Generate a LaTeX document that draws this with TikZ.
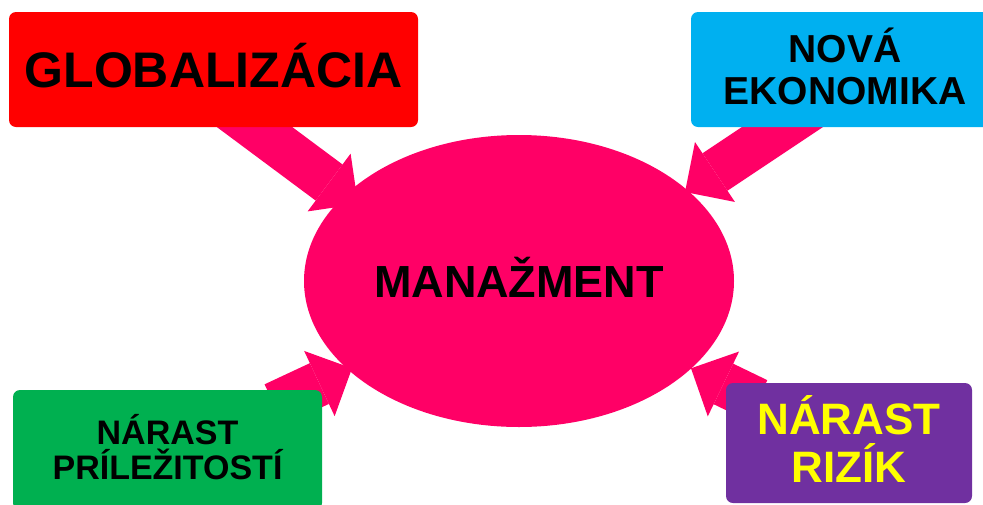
\documentclass[tikz,border=0pt]{standalone}
\usepackage{fontspec}
\setmainfont{Liberation Sans}
\usetikzlibrary{shapes.geometric,arrows.meta,calc}
\pgfdeclarelayer{background}
\pgfsetlayers{background,main}
\definecolor{mgmtpink}{HTML}{FF0066}
\definecolor{boxred}{HTML}{FF0000}
\definecolor{boxcyan}{HTML}{00B0F0}
\definecolor{boxgreen}{HTML}{00B050}
\definecolor{boxpurple}{HTML}{7030A0}
\definecolor{textyellow}{HTML}{FFFF00}

\begin{document}
\begin{tikzpicture}[x=1pt,y=-1pt,
  topic/.style={rectangle, rounded corners=7pt, inner sep=0pt, align=center},
  push/.style={line width=45pt, mgmtpink,
    -{Triangle[length=36pt,width=72pt,line width=0pt]}}
]
\path[use as bounding box, clip] (0,0) rectangle (983,504);

% central ellipse
\node[ellipse, fill=mgmtpink, minimum width=430pt, minimum height=292pt,
      inner sep=0pt, font=\bfseries\fontsize{45}{45}\selectfont,
      text height=32pt, text depth=0pt] (mgmt) at (519,281) {MANAŽMENT};

% the four influences (multi-line text sits on its last baseline)
\node[topic, fill=boxred, minimum width=409pt, minimum height=115pt,
      font=\bfseries\fontsize{50}{50}\selectfont,
      text height=35.8pt, text depth=0pt] (glob) at (213.5,69.5) {GLOBALIZÁCIA};
\node[topic, fill=boxcyan, minimum width=308pt, minimum height=115pt,
      font=\bfseries\fontsize{39}{42}\selectfont,
      text height=70pt, text depth=0pt] (econ) at (845,69.5) {NOVÁ\\EKONOMIKA};
\node[topic, fill=boxgreen, minimum width=309pt, minimum height=120pt,
      font=\bfseries\fontsize{34}{35}\selectfont,
      text height=59.3pt, text depth=0pt] (chance) at (167.5,450) {NÁRAST\\PRÍLEŽITOSTÍ};
\node[topic, fill=boxpurple, text=textyellow, minimum width=246pt, minimum height=120pt,
      font=\bfseries\fontsize{44}{48}\selectfont,
      text height=79.5pt, text depth=0pt] (risk) at (849,443) {NÁRAST\\RIZÍK};

% block arrows pointing into the ellipse
\begin{pgfonlayer}{background}
\draw[push] ($(glob)+(3.2,29.4)$) -- ($(mgmt)+(-161,-77)$);
\draw[push] ($(econ)+(-13.5,24.8)$) -- ($(mgmt)+(166,-89)$);
\draw[push] ($(chance)+(106.6,-45.3)$) -- ($(mgmt)+(-167,87.3)$);
\draw[push] ($(risk)+(-91.5,-42.6)$) -- ($(mgmt)+(172,87.3)$);
\end{pgfonlayer}
\end{tikzpicture}
\end{document}
